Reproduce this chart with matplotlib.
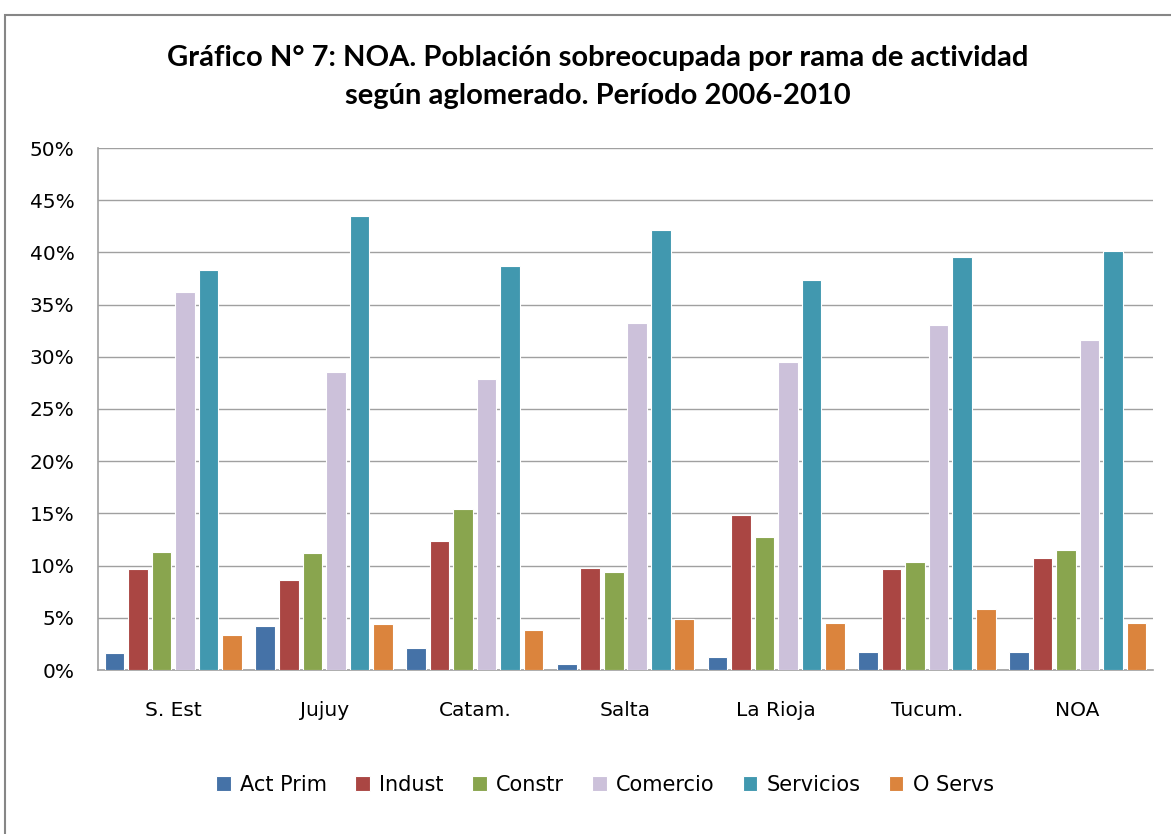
import numpy as np
import matplotlib.pyplot as plt
from matplotlib.patches import Rectangle

plt.rcParams['font.family'] = ['DejaVu Sans']

aglomerados = ['S. Est', 'Jujuy', 'Catam.', 'Salta', 'La Rioja', 'Tucum.', 'NOA']
ramas = ['Act Prim', 'Indust', 'Constr', 'Comercio', 'Servicios', 'O Servs']

act_prim = [1.6, 4.2, 2.1, 0.6, 1.2, 1.7, 1.7]
indust = [9.7, 8.6, 12.4, 9.8, 14.8, 9.7, 10.7]
constr = [11.3, 11.2, 15.4, 9.4, 12.7, 10.3, 11.5]
comercio = [36.2, 28.5, 27.9, 33.2, 29.5, 33.0, 31.6]
servicios = [38.3, 43.5, 38.7, 42.1, 37.4, 39.6, 40.1]
o_servs = [3.4, 4.4, 3.8, 4.9, 4.5, 5.8, 4.5]

series = [act_prim, indust, constr, comercio, servicios, o_servs]
colores = ['#4572A7', '#AA4643', '#89A54E', '#CCC1DA', '#4198AF', '#DB843D']

fig = plt.figure(figsize=(11.71, 8.34), dpi=100)
ax = fig.add_axes([98/1171, 1 - 670/834, 1055/1171, 522/834])

x = np.arange(len(aglomerados))
paso = 0.156
ancho = 0.13
for i, (vals, c, nombre) in enumerate(zip(series, colores, ramas)):
    ax.bar(x + (i - 2.5) * paso, vals, width=ancho, color=c, edgecolor='white',
           linewidth=0.8, label=nombre, zorder=3)

ax.set_xlim(-0.5, len(aglomerados) - 0.5)
ax.set_ylim(0, 50)
ax.set_yticks(np.arange(0, 51, 5))
ax.set_yticklabels(['%d%%' % v for v in range(0, 51, 5)])
ax.set_xticks(x)
ax.set_xticklabels(aglomerados)
ax.tick_params(axis='both', length=0, labelsize=14.5, colors='#000000')
ax.tick_params(axis='x', pad=22)
ax.tick_params(axis='y', pad=17)
ax.yaxis.grid(True, color='#A0A0A0', linewidth=1.0, zorder=0)
for s in ['top', 'right']:
    ax.spines[s].set_visible(False)
for s in ['bottom', 'left']:
    ax.spines[s].set_color('#A0A0A0')
    ax.spines[s].set_linewidth(1.2)

# titulo en dos lineas
titulo = ['Gráfico N° 7: NOA. Población sobreocupada por rama de actividad',
          'según aglomerado. Período 2006-2010']
for linea, ypx in zip(titulo, [58, 96]):
    fig.text(598/1171, 1 - ypx/834, linea, ha='center', va='center', fontsize=21,
             fontweight='bold', family=['Lato', 'DejaVu Sans'])

leg = fig.legend(loc='center', bbox_to_anchor=(605/1171, 1 - 785/834), ncol=6, frameon=False,
                 fontsize=15, handlelength=0.7, handleheight=0.7, handletextpad=0.45,
                 columnspacing=1.35)

fig.patches.append(Rectangle((5/1171, -0.1), 1.2, 1 - 15/834 + 0.1, transform=fig.transFigure,
                             fill=False, edgecolor='#868686', linewidth=1.5))

fig.savefig('out.png', dpi=100)
